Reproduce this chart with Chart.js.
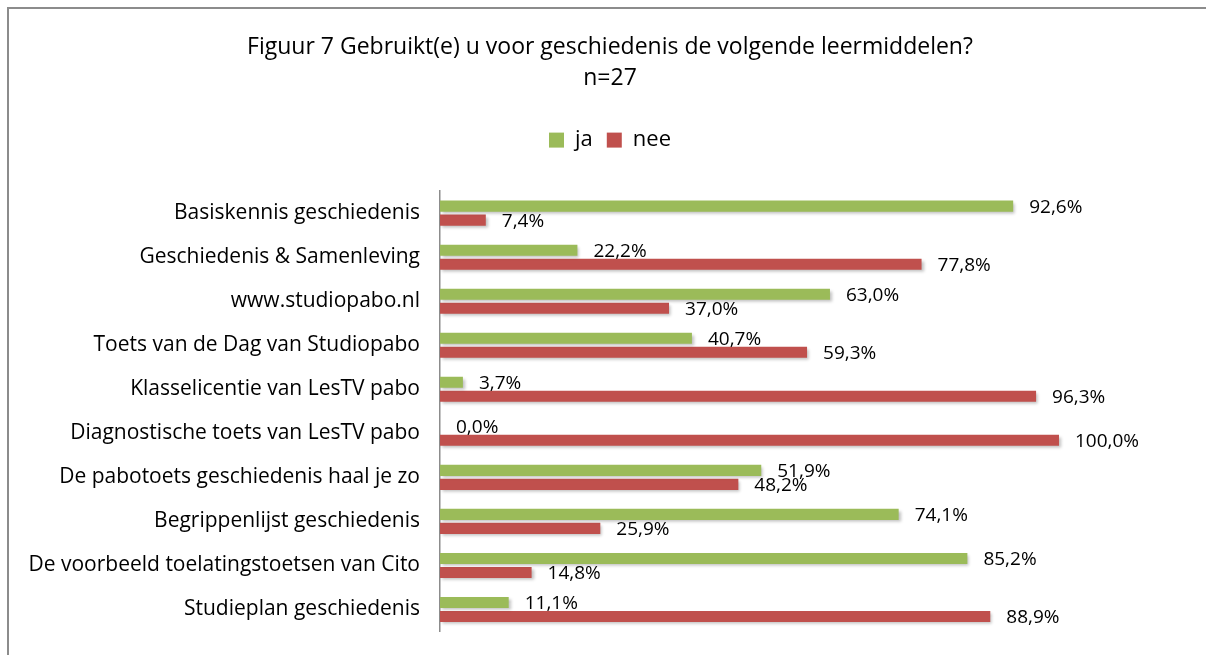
<!DOCTYPE html>
<html>
<head>
<meta charset="utf-8">
<script src="https://cdn.jsdelivr.net/npm/chart.js@4"></script>
<style>
  html, body { margin: 0; padding: 0; background: #fff; }
  #wrap { position: relative; width: 1206px; height: 655px; }
  #frame { position: absolute; left: 7px; top: 7px; right: 0; bottom: 0;
           border-left: 2px solid #8c8c8c; border-top: 2px solid #8c8c8c; }
  canvas { position: absolute; left: 0; top: 0; }
</style>
</head>
<body>
<div id="wrap">
  <div id="frame"></div>
  <canvas id="chart" width="1206" height="655"></canvas>
</div>
<script>
// categorieën en percentages (gelezen uit de figuur)
const categorieen = [
  'Basiskennis geschiedenis',
  'Geschiedenis & Samenleving',
  'www.studiopabo.nl',
  'Toets van de Dag van Studiopabo',
  'Klasselicentie van LesTV pabo',
  'Diagnostische toets van LesTV pabo',
  'De pabotoets geschiedenis haal je zo',
  'Begrippenlijst geschiedenis',
  'De voorbeeld toelatingstoetsen van Cito',
  'Studieplan geschiedenis'
];
const ja  = [92.6, 22.2, 63.0, 40.7, 3.7, 0.0, 51.9, 74.1, 85.2, 11.1];
const nee = [7.4, 77.8, 37.0, 59.3, 96.3, 100.0, 48.2, 25.9, 14.8, 88.9];

const groen = '#9BBB59';
const rood = '#C0504D';
const lettertype = "'Open Sans', sans-serif";

// extra ruimte onder de legenda
const legendaRuimte = {
  id: 'legendaRuimte',
  beforeLayout(chart) {
    const lg = chart.legend;
    if (lg && !lg._extra) {
      const fit = lg.fit.bind(lg);
      lg.fit = function() { fit(); this.height += 30; };
      lg._extra = true;
    }
  }
};

// schaduw onder de balken, zoals in Excel
const schaduwPlugin = {
  id: 'schaduw',
  beforeDatasetsDraw(chart) {
    const ctx = chart.ctx;
    ctx.save();
    ctx.shadowColor = 'rgba(0,0,0,0.25)';
    ctx.shadowBlur = 3;
    ctx.shadowOffsetX = 2;
    ctx.shadowOffsetY = 2;
  },
  afterDatasetsDraw(chart) {
    chart.ctx.restore();
  }
};

// percentages rechts naast de balken
const labelPlugin = {
  id: 'labels',
  afterDraw(chart) {
    const ctx = chart.ctx;
    ctx.save();
    ctx.font = '19px ' + lettertype;
    ctx.fillStyle = '#000';
    ctx.textAlign = 'left';
    ctx.textBaseline = 'middle';
    chart.data.datasets.forEach((ds, i) => {
      chart.getDatasetMeta(i).data.forEach((bar, j) => {
        const txt = ds.data[j].toFixed(1).replace('.', ',') + '%';
        ctx.fillText(txt, bar.x + 16, bar.y + 1);
      });
    });
    ctx.restore();
  }
};

new Chart(document.getElementById('chart').getContext('2d'), {
  type: 'bar',
  data: {
    labels: categorieen,
    datasets: [
      { label: 'ja', data: ja, backgroundColor: groen, borderWidth: 0 },
      { label: 'nee', data: nee, backgroundColor: rood, borderWidth: 0 }
    ]
  },
  options: {
    indexAxis: 'y',
    responsive: false,
    animation: false,
    events: [],
    layout: { padding: { left: 14, right: 0, top: 0, bottom: 23.5 } },
    datasets: {
      bar: { barPercentage: 0.79, categoryPercentage: 0.636 }
    },
    plugins: {
      title: {
        display: true,
        text: ['Figuur 7 Gebruikt(e) u voor geschiedenis de volgende leermiddelen?', 'n=27'],
        color: '#000',
        font: { family: lettertype, size: 23, weight: 'normal', lineHeight: 1.35 },
        padding: { top: 32, bottom: 21 }
      },
      legend: {
        display: true,
        labels: {
          color: '#000',
          font: { family: lettertype, size: 22 },
          boxWidth: 15,
          boxHeight: 15,
          padding: 14
        }
      },
      tooltip: { enabled: false }
    },
    scales: {
      x: { display: false, min: 0, max: 123.75 },
      y: {
        offset: true,
        grid: { display: false, drawTicks: false },
        border: { display: true, color: '#8c8c8c', width: 1.5 },
        ticks: {
          color: '#000',
          font: { family: lettertype, size: 21 },
          padding: 20
        },
        afterFit(scale) {
          scale.width = 426;
          scale.paddingTop = 0;
          scale.paddingBottom = 0;
        }
      }
    }
  },
  plugins: [legendaRuimte, schaduwPlugin, labelPlugin]
});
</script>
</body>
</html>
